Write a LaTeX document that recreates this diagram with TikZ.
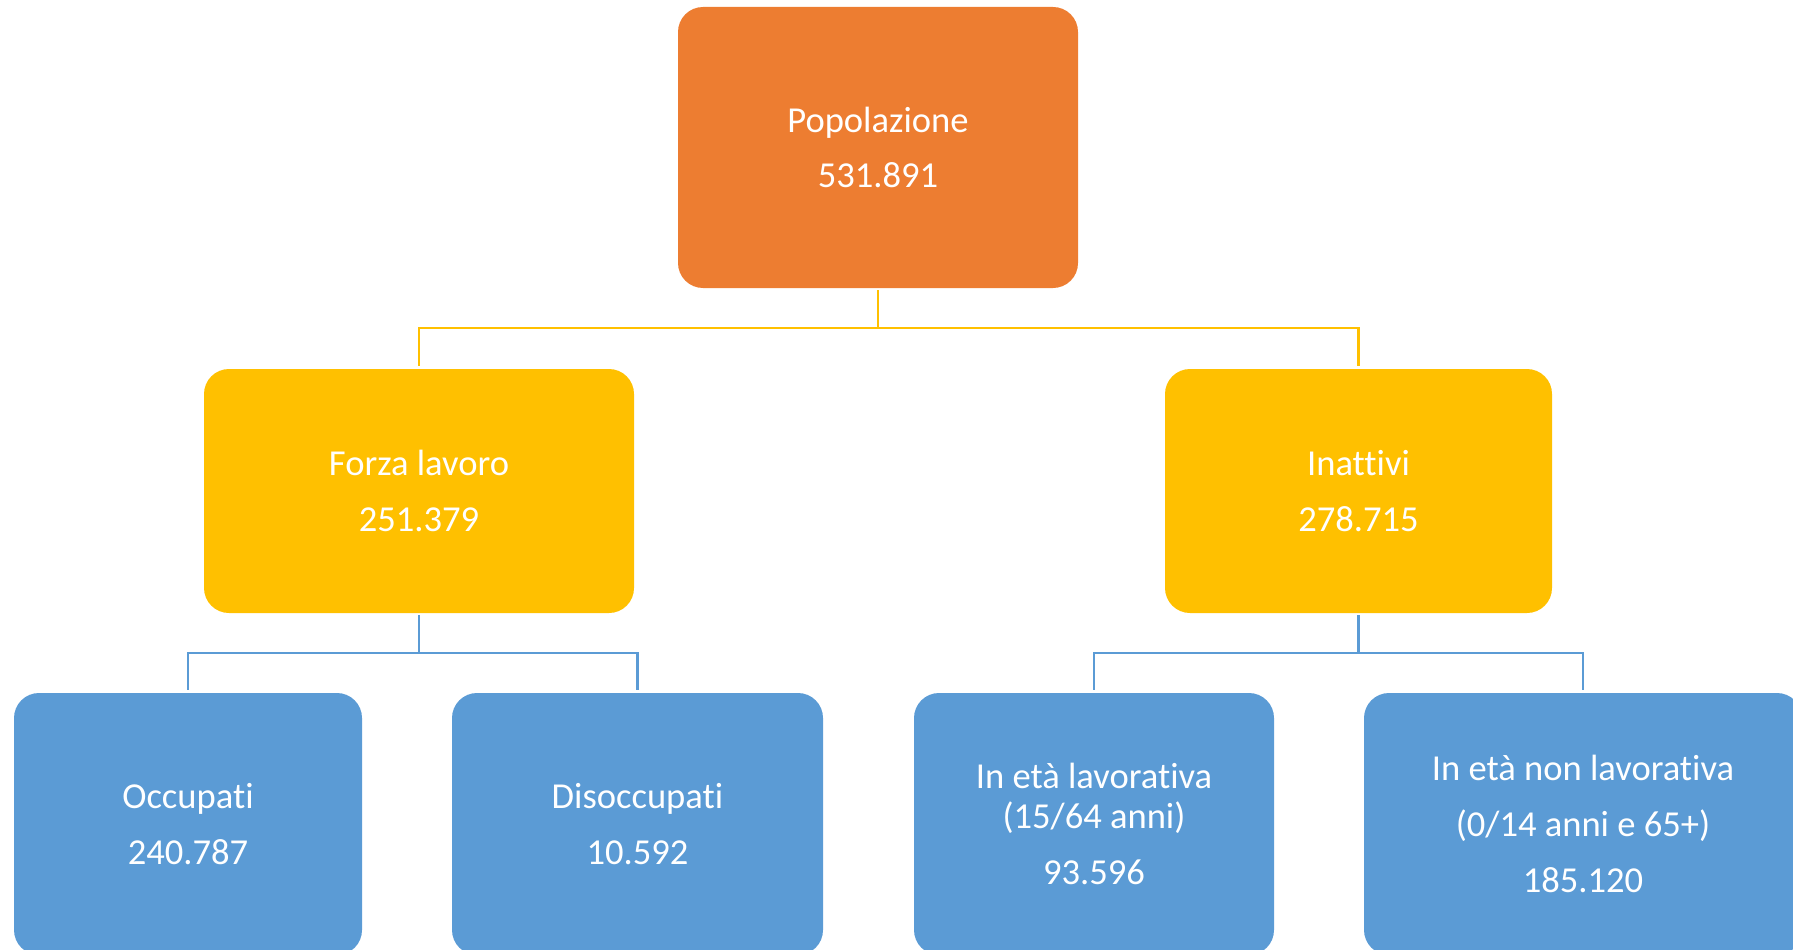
\documentclass[tikz,border=0pt]{standalone}
\usepackage{fontspec}
\setmainfont{Carlito}[Ligatures={NoCommon}]
\usetikzlibrary{positioning}
\definecolor{poporange}{HTML}{ED7D31}
\definecolor{midgold}{HTML}{FFC000}
\definecolor{leafblue}{HTML}{5B9BD5}

\begin{document}
\begin{tikzpicture}[
    font=\fontsize{10.4}{15.9}\selectfont,
    text=white,
    basebox/.style={
        rounded corners=0.25cm, align=center, inner sep=0pt, outer sep=0pt,
    },
    topbox/.style={basebox, fill=poporange,
        minimum width=4.00cm, minimum height=2.81cm},
    midbox/.style={basebox, fill=midgold, minimum height=2.44cm},
    leafbox/.style={basebox, fill=leafblue, minimum height=2.62cm},
    goldlink/.style={draw=midgold, line width=0.72pt,
        shorten <=0.02cm, shorten >=0.03cm},
    bluelink/.style={draw=leafblue, line width=0.72pt,
        shorten <=0.02cm, shorten >=0.03cm},
]

% Page frame, same margins as the chart
\clip (0,0) rectangle (17.93,-9.50);

% Root of the tree
\node[topbox] (pop) at (8.78,-1.475) {Popolazione\\531.891};

% Second level
\node[midbox, minimum width=4.30cm, below=0.81cm of pop, xshift=-4.59cm]
    (forza) {Forza lavoro\\251.379};
\node[midbox, minimum width=3.87cm, below=0.81cm of pop, xshift=4.805cm]
    (inattivi) {Inattivi\\278.715};

% Third level under Forza lavoro
\node[leafbox, minimum width=3.48cm, below=0.80cm of forza, xshift=-2.31cm]
    (occupati) {Occupati\\240.787};
\node[leafbox, minimum width=3.71cm, below=0.80cm of forza, xshift=2.185cm]
    (disocc) {Disoccupati\\10.592};

% Third level under Inattivi
\node[leafbox, minimum width=3.60cm, below=0.80cm of inattivi, xshift=-2.645cm]
    (lavor) {In età lavorativa\\[-4.5pt](15/64 anni)\\93.596};
\node[leafbox, minimum width=4.38cm, below=0.80cm of inattivi, xshift=2.245cm]
    (nonlavor) {In età non lavorativa\\(0/14 anni e 65+)\\185.120};

% Elbow links, root to second level
\draw[goldlink] (pop.south) -- ++(0,-0.40) -| (forza.north);
\draw[goldlink] (pop.south) -- ++(0,-0.40) -| (inattivi.north);

% Elbow links, second level to leaves
\draw[bluelink] (forza.south) -- ++(0,-0.40) -| (occupati.north);
\draw[bluelink] (forza.south) -- ++(0,-0.40) -| (disocc.north);
\draw[bluelink] (inattivi.south) -- ++(0,-0.40) -| (lavor.north);
\draw[bluelink] (inattivi.south) -- ++(0,-0.40) -| (nonlavor.north);

\end{tikzpicture}
\end{document}
